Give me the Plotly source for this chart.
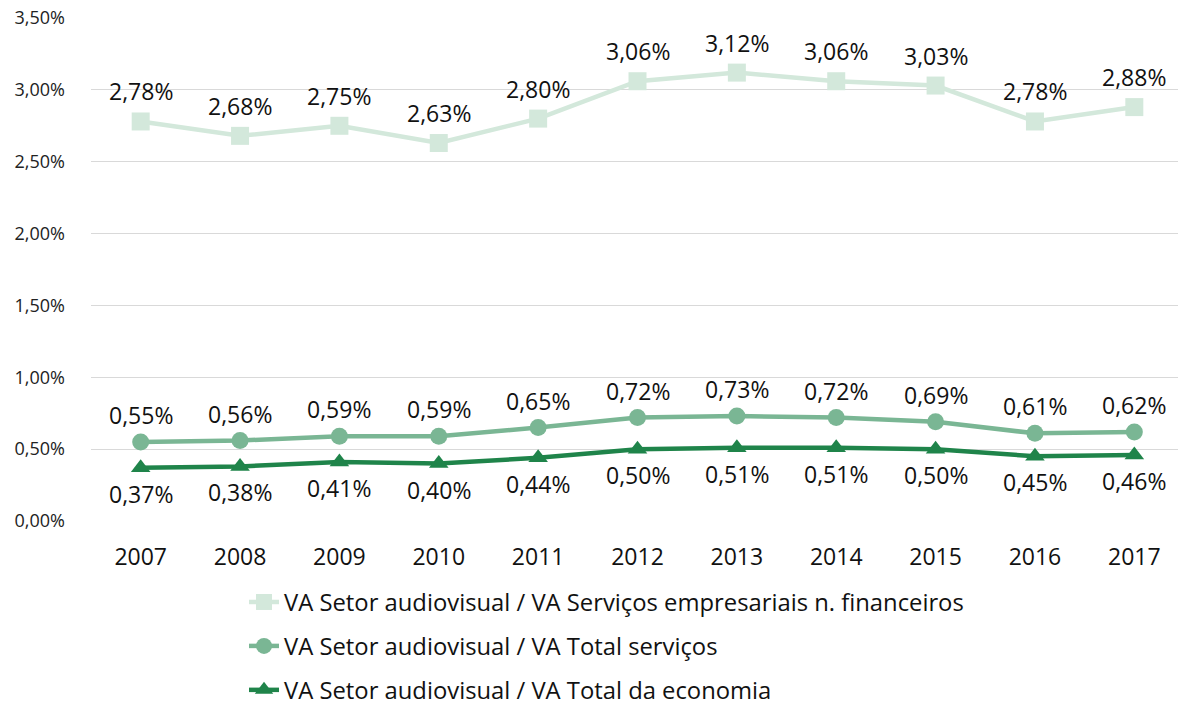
import plotly.graph_objects as go

# dados (valores em %)
anos = ["2007", "2008", "2009", "2010", "2011", "2012", "2013", "2014", "2015", "2016", "2017"]
va_emp_fin = [2.78, 2.68, 2.75, 2.63, 2.80, 3.06, 3.12, 3.06, 3.03, 2.78, 2.88]
va_servicos = [0.55, 0.56, 0.59, 0.59, 0.65, 0.72, 0.73, 0.72, 0.69, 0.61, 0.62]
va_economia = [0.37, 0.38, 0.41, 0.40, 0.44, 0.50, 0.51, 0.51, 0.50, 0.45, 0.46]

nomes = [
    "VA Setor audiovisual / VA Serviços empresariais n. financeiros",
    "VA Setor audiovisual / VA Total serviços",
    "VA Setor audiovisual / VA Total da economia",
]

FONTE = "Open Sans, Noto Sans, sans-serif"
cores = ["#D3E8DB", "#7AB694", "#1F844A"]
simbolos = ["square", "circle", "triangle-up"]
tamanhos = [18, 17, 17]
deslocs = [30, 27, -26]

fig = go.Figure()
annots = []
for i, (serie, nome) in enumerate(zip([va_emp_fin, va_servicos, va_economia], nomes)):
    ys = [v / 100 for v in serie]
    fig.add_trace(go.Scatter(
        x=anos, y=ys, name=nome, mode="lines+markers",
        legendgroup=f"g{i}",
        line=dict(color=cores[i], width=4.5),
        marker=dict(symbol=simbolos[i], size=tamanhos[i], color=cores[i]),
    ))
    # rótulos de dados (x pelo índice da categoria)
    for k, v in enumerate(serie):
        annots.append(dict(
            x=k, y=v / 100, text=f"{v:.2f}%".replace(".", ","),
            showarrow=False, yshift=deslocs[i],
            font=dict(size=23, color="#111111", family=FONTE),
        ))

# a página tem margem de 8px no body: a figura começa em (8, 8)
fig.update_layout(
    width=1178, height=704,
    margin=dict(l=83, r=2, t=10, b=191),
    paper_bgcolor="white", plot_bgcolor="white",
    separators=",.",
    font=dict(family=FONTE, color="#222222"),
    annotations=annots,
    showlegend=True,
    legend=dict(
        orientation="v", x=0.14, xanchor="left",
        yref="container", y=0.0, yanchor="bottom",
        font=dict(size=23.8, color="#111111"), tracegroupgap=10,
    ),
)
fig.update_xaxes(
    type="category", range=[-0.5, 10.5],
    showgrid=False, zeroline=False, showline=False,
    automargin=False,
    tickfont=dict(size=23, color="#111111"), ticks="", ticklabelstandoff=20,
)
fig.update_yaxes(
    range=[0, 0.035], dtick=0.005, tickformat=".2%",
    showgrid=True, gridcolor="#D9D9D9", gridwidth=1, zeroline=False,
    automargin=False, ticklabelstandoff=25, ticklabeloverflow="allow",
    tickfont=dict(size=18, color="#222222"),
)

fig.write_html("out.html")
